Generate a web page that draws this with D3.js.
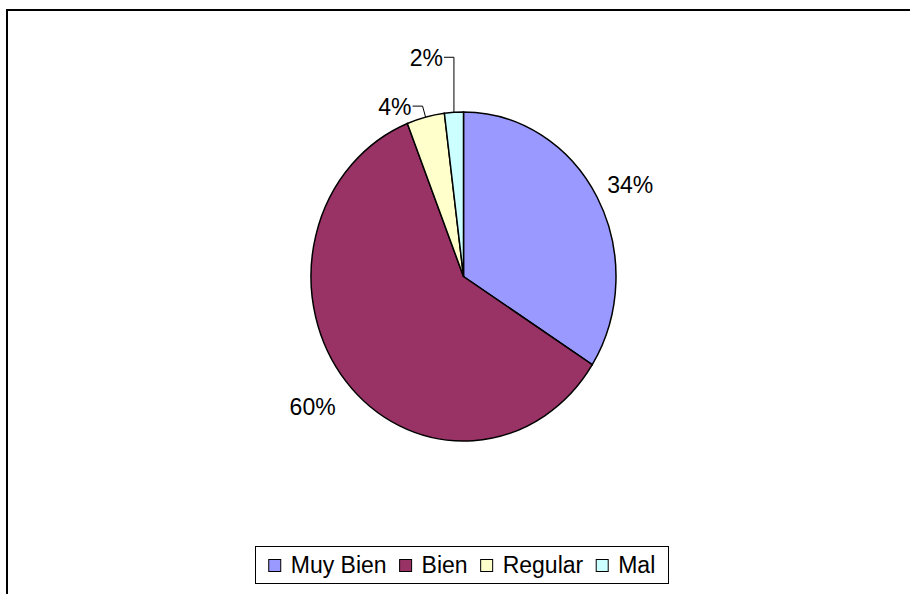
<!DOCTYPE html>
<html>
<head>
  <meta charset="UTF-8">
  <title>Pie chart</title>
  <script src="https://cdnjs.cloudflare.com/ajax/libs/d3/7.8.5/d3.min.js"></script>
  <style type="text/css">
    body { margin: 0; background: #fff; }
    text { font-family: Arial, "Liberation Sans", sans-serif; fill: #000; }
  </style>
</head>
<body>
  <script type="text/javascript">

    // data
    var categories = ["Muy Bien", "Bien", "Regular", "Mal"];
    var values = [34, 60, 4, 2];
    var colors = ["#9999FF", "#993366", "#FFFFCC", "#CCFFFF"];

    var W = 910, H = 594;
    var cx = 463.5, cy = 276.5, r = 152.5, yStretch = 1.079; // excel pie is slightly tall
    var fontSize = 23;

    var svg = d3.select("body").append("svg")
        .attr("width", W)
        .attr("height", H);

    // chart area frame, runs off the right and bottom edges
    svg.append("rect")
        .attr("x", 7).attr("y", 10)
        .attr("width", W).attr("height", H)
        .attr("fill", "none")
        .attr("stroke", "#000")
        .attr("stroke-width", 2);

    var data = categories.map(function (c, i) { return { name: c, value: values[i], color: colors[i] }; });

    var pie = d3.pie().sort(null).value(function (d) { return d.value; });
    var arcs = pie(data);
    var arc = d3.arc().innerRadius(0).outerRadius(r);

    //slices
    var g = svg.append("g")
        .attr("transform", "translate(" + cx + "," + cy + ") scale(1," + yStretch + ")");

    g.selectAll("path")
      .data(arcs)
      .enter().append("path")
        .attr("d", arc)
        .attr("fill", function (d) { return d.data.color; })
        .attr("stroke", "#000")
        .attr("stroke-width", 1.5)
        .attr("vector-effect", "non-scaling-stroke");

    // point on the (stretched) pie at angle a, radius rr
    function pt(a, rr) {
      return [cx + rr * Math.sin(a), cy - yStretch * rr * Math.cos(a)];
    }

    var fmt = function (d) { return Math.round(d.data.value) + "%"; };

    // big slices: label just outside the edge
    arcs.filter(function (d) { return d.data.value >= 10; }).forEach(function (d) {
      var mid = (d.startAngle + d.endAngle) / 2;
      var p = pt(mid, r + 16);
      var right = Math.sin(mid) > 0;
      svg.append("text")
          .attr("x", p[0] + (right ? -4 : 2))
          .attr("y", p[1] + (right ? -2 : 17))
          .attr("text-anchor", right ? "start" : "end")
          .attr("dominant-baseline", "middle")
          .style("font-size", fontSize + "px")
          .text(fmt(d));
    });

    // small slices: lifted labels with leader lines
    var leaderLift = { "Regular": 11, "Mal": 55 };
    arcs.filter(function (d) { return d.data.value < 10; }).forEach(function (d) {
      var mid = (d.startAngle + d.endAngle) / 2;
      var p0 = pt(mid, r);
      var elbow = [p0[0] - 3, p0[1] - leaderLift[d.data.name]];
      if (d.data.name == "Mal") elbow = [p0[0], p0[1] - leaderLift[d.data.name]];
      var end = [elbow[0] - 10, elbow[1]];
      svg.append("polyline")
          .attr("points", [p0, elbow, end].map(function (q) { return q.join(","); }).join(" "))
          .attr("fill", "none")
          .attr("stroke", "#000")
          .attr("stroke-width", 1);
      svg.append("text")
          .attr("x", end[0] - 1)
          .attr("y", end[1] + 3)
          .attr("text-anchor", "end")
          .attr("dominant-baseline", "middle")
          .style("font-size", fontSize + "px")
          .text(fmt(d));
    });

    //LEGEND
    var legend = svg.append("g");
    var sw = 12, gapText = 22, gapItem = 13;
    var items = legend.selectAll("g.item")
      .data(data)
      .enter().append("g").attr("class", "item");

    items.append("rect")
        .attr("width", sw).attr("height", sw)
        .attr("fill", function (d) { return d.color; })
        .attr("stroke", "#000")
        .attr("stroke-width", 1);
    items.append("text")
        .attr("x", gapText)
        .attr("y", sw / 2 + 1)
        .attr("dominant-baseline", "middle")
        .style("font-size", fontSize + "px")
        .text(function (d) { return d.name; });

    var xpos = [], total = 0;
    items.each(function () {
      var w = this.querySelector("text").getComputedTextLength();
      xpos.push(total);
      total += gapText + w + gapItem;
    });
    total -= gapItem;

    var boxL = 255.5, boxR = 668.5, boxT = 546.5, boxB = 583.5;
    var startX = (boxL + boxR) / 2 - total / 2;
    items.attr("transform", function (d, i) { return "translate(" + (startX + xpos[i]) + "," + 559.5 + ")"; });

    legend.insert("rect", ":first-child")
        .attr("x", boxL).attr("y", boxT)
        .attr("width", boxR - boxL).attr("height", boxB - boxT)
        .attr("fill", "#fff")
        .attr("stroke", "#000")
        .attr("stroke-width", 1);

  </script>
</body>
</html>
